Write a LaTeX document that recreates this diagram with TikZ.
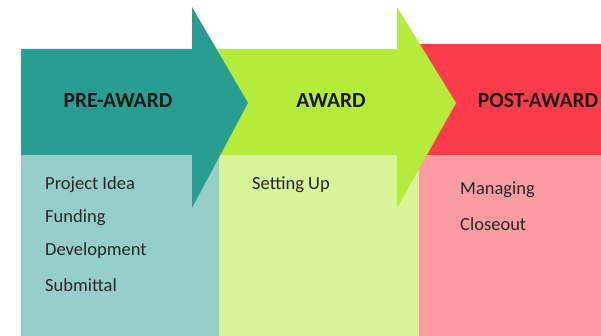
\documentclass[tikz,border=0pt]{standalone}
\usepackage{fontspec}
\setmainfont{Carlito}
\usepackage{tikz}

\definecolor{teal1}{RGB}{42,157,147}
\definecolor{teal2}{RGB}{150,206,201}
\definecolor{green1}{RGB}{181,236,59}
\definecolor{green2}{RGB}{217,245,154}
\definecolor{red1}{RGB}{252,60,74}
\definecolor{red2}{RGB}{250,156,162}

\begin{document}
\begin{tikzpicture}[x=1pt,y=-1pt]
	\useasboundingbox (0,0) rectangle (601,336);

	% light boxes
	\fill[teal2] (21,155) rectangle (219,336);
	\fill[green2] (219,155) rectangle (419,336);
	\fill[red2] (419,155) rectangle (601,336);

	% headers and arrows
	\fill[red1] (410,44) rectangle (601,155);
	\fill[green1] (215,49) -- (397,49) -- (397,7) -- (456,103) -- (397,208) -- (397,155) -- (215,155) -- cycle;
	\fill[teal1] (21,49) -- (192,49) -- (192,7) -- (248,103) -- (192,208) -- (192,155) -- (21,155) -- cycle;

	\begin{scope}[every node/.style={font=\fontsize{21.5}{25}\bfseries,text=black!90}]
		\node (pre) at (118,101) {PRE-AWARD};
		\node (award) at (331,101) {AWARD};
		\node (post) at (538,101) {POST-AWARD};
	\end{scope}

	\begin{scope}[every node/.style={font=\fontsize{18.5}{22}\selectfont,text=black!85,anchor=west,inner sep=0pt}]
		\node (idea) at (45,185) {Project Idea};
		\node (funding) at (45,218) {Funding};
		\node (develop) at (45,251) {Development};
		\node (submit) at (45,285) {Submittal};
		\node (setup) at (252,185) {Setting Up};
		\node (manage) at (460,190) {Managing};
		\node (closeout) at (460,224) {Closeout};
	\end{scope}
\end{tikzpicture}
\end{document}
